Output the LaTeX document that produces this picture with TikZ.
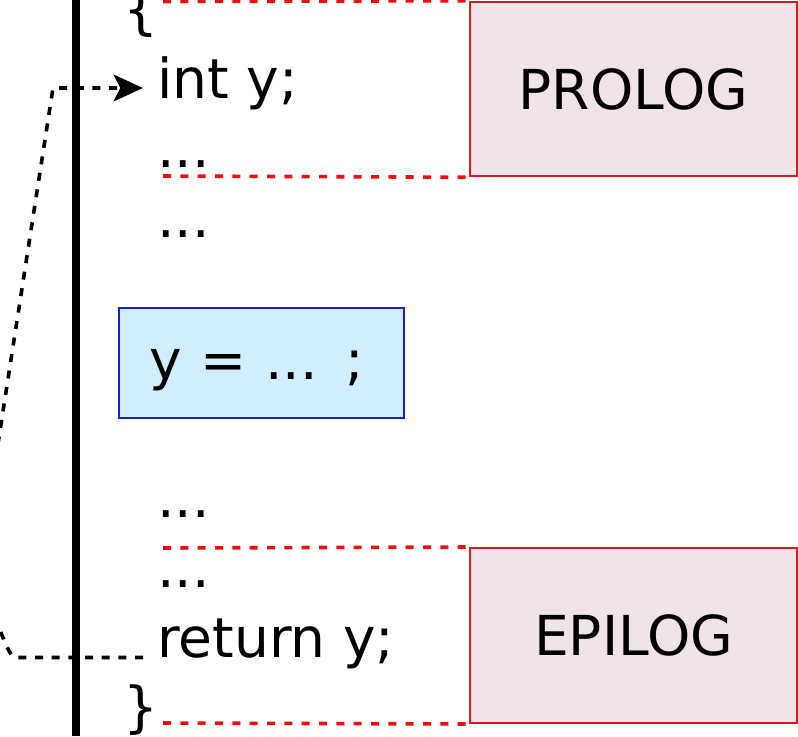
\documentclass[tikz,border=0pt]{standalone}
\usepackage{fontspec}
\setmainfont{DejaVu Sans}
\usetikzlibrary{arrows.meta}
\definecolor{redline}{RGB}{232,16,16}
\definecolor{boxred}{RGB}{212,30,30}
\definecolor{pinkfill}{RGB}{240,228,230}
\definecolor{bluefill}{RGB}{208,238,252}
\definecolor{blueline}{RGB}{30,30,200}
\tikzset{
  code/.style={anchor=base west, inner sep=0pt, font=\fontsize{41.3}{49}\selectfont},
  sepline/.style={draw=redline, line width=2.7pt, dash pattern=on 6pt off 7pt},
  phasebox/.style={draw=boxred, line width=1.5pt, fill=pinkfill, inner sep=0pt,
    font=\fontsize{41.3}{49}\selectfont, text height=30pt, text depth=0pt,
    minimum width=245.25pt},
  assignbox/.style={draw=blueline, line width=1.5pt, fill=bluefill, anchor=north west,
    inner xsep=23pt, inner ysep=0pt, text width=168pt, align=left,
    minimum height=82.5pt, text height=24pt, text depth=0pt,
    font=\fontsize{41.3}{49}\selectfont},
  flowdash/.style={line width=2.7pt, dash pattern=on 6pt off 6.5pt},
  stack/.style={line width=6.5pt},
}
\begin{document}
\begin{tikzpicture}[x=0.75pt,y=-0.75pt]
\useasboundingbox (0,0) rectangle (798,736);
\clip (0,0) rectangle (798,736);
\fill[white] (0,0) rectangle (798,736);

% stack bar
\coordinate (bartop) at (76,0);
\coordinate (barbot) at (76,736);
\draw[stack] (bartop) -- (barbot);

% phase boxes
\node[phasebox, minimum height=130.9pt] (prolog) at (633.5,89) {PROLOG};
\node[phasebox, minimum height=131.25pt] (epilog) at (633.5,635.5) {EPILOG};

% separator lines
\coordinate (s1) at (163,1.5);
\coordinate (s2) at (163,176);
\coordinate (s3) at (163,548);
\coordinate (s4) at (163,723);
\draw[sepline] (s1) -- (prolog.north west);
\draw[sepline] (s2) -- (prolog.south west);
\draw[sepline] (s3) -- (epilog.north west);
\draw[sepline] (s4) -- (epilog.south west);

% code lines
\node[code] (brace1) at (123,28) {\{};
\node[code] (inty) at (157,98) {int y;};
\node[code] (dots1) at (157,167) {...};
\node[code] (dots2) at (157,237) {...};
\node[assignbox] (assign) at (118,307) {y = ... ;};
\node[code] (dots3) at (157,517) {...};
\node[code] (dots4) at (157,587) {...};
\node[code] (ret) at (157,657) {return y;};
\node[code] (brace2) at (123,726) {\}};

% return flow
\coordinate (retout) at (143,657.5);
\coordinate (bendlow) at (14,657.5);
\coordinate (farleft) at (-20,560);
\coordinate (bendtop) at (53,88);
\coordinate (arrtip) at (143,88);
\draw[flowdash, -{Stealth[length=22pt,width=20pt,inset=5pt]}]
  (retout) -- (bendlow) .. controls (6,652) and (-8,610) .. (farleft)
  -- (bendtop) -- (arrtip);
\end{tikzpicture}
\end{document}
